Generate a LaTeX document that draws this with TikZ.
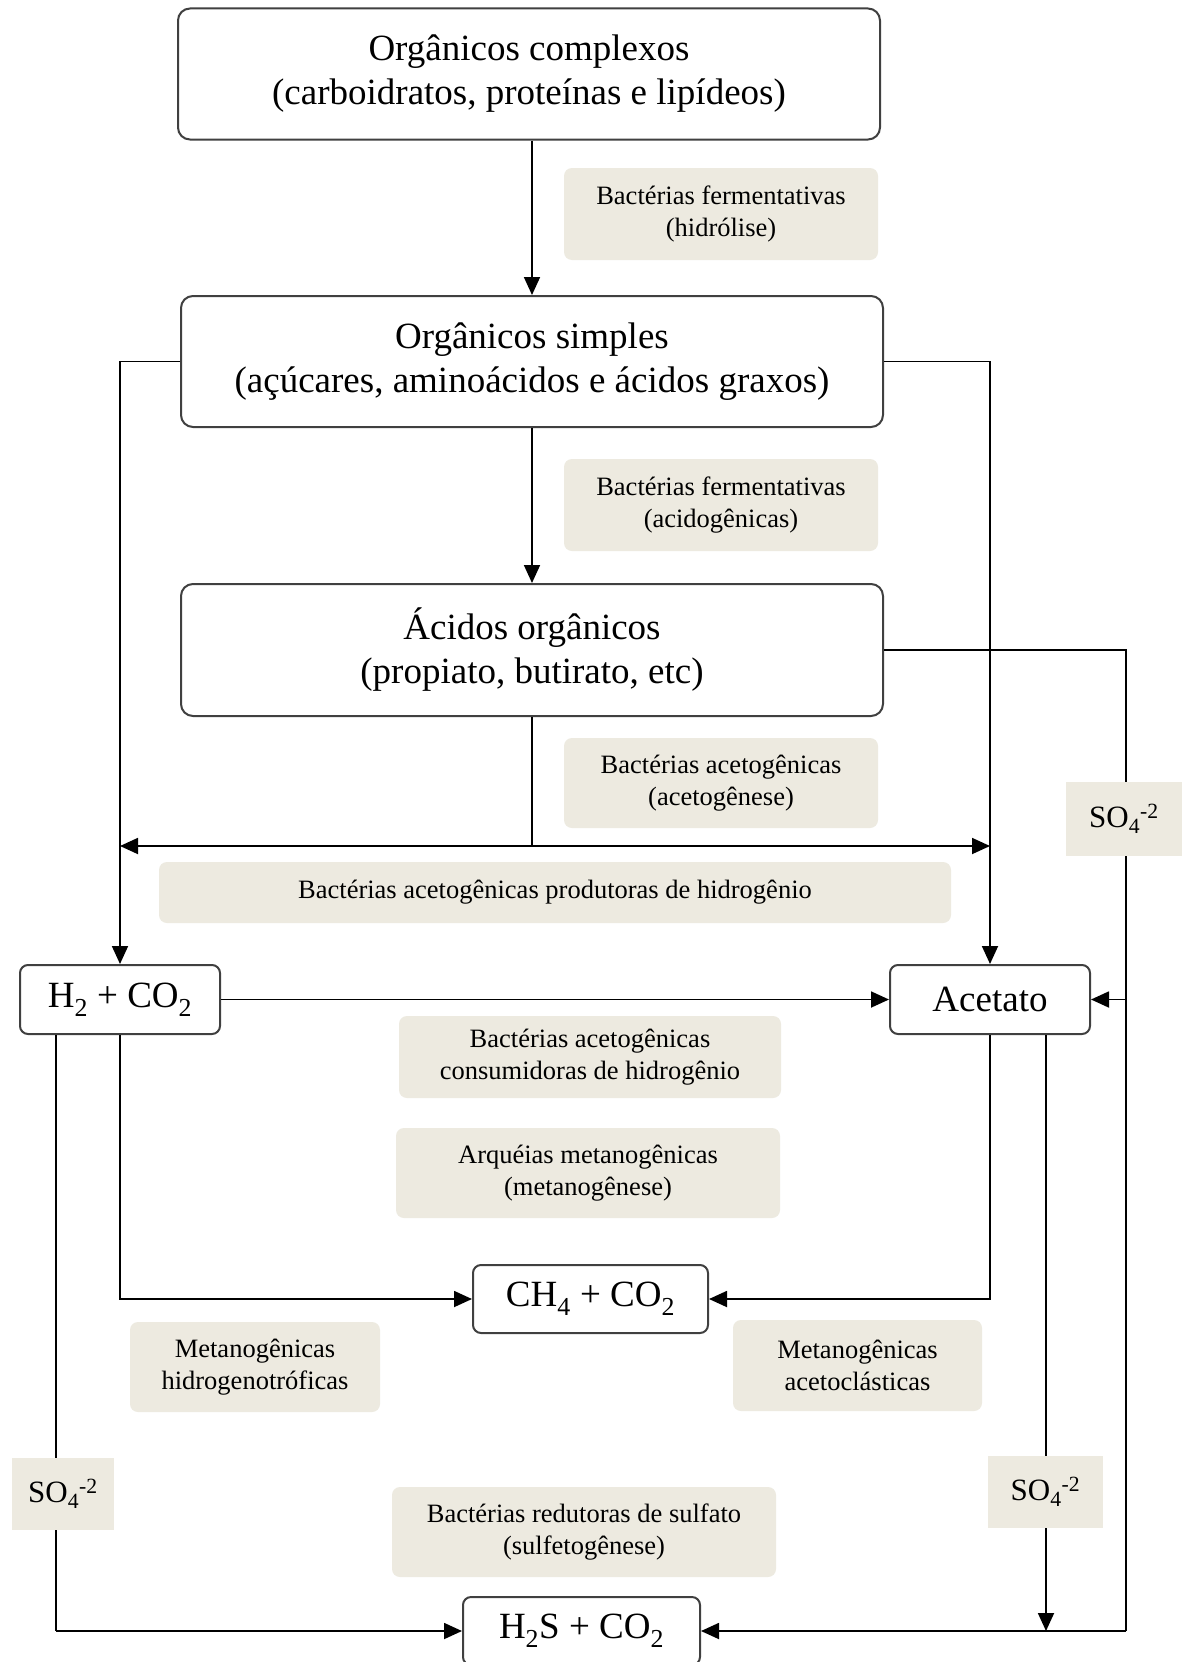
\documentclass[tikz,border=0pt]{standalone}
\usepackage{fontspec}
\setmainfont{Liberation Serif}
\usetikzlibrary{arrows.meta}
\definecolor{beige}{HTML}{EDEAE0}
\begin{document}
\begin{tikzpicture}[x=1pt,y=-1pt,
  mainbox/.style={draw=black!75, line width=2pt, rounded corners=12pt, fill=white, align=center, inner sep=0pt, font=\fontsize{37}{44}\selectfont},
  smallbox/.style={mainbox, rounded corners=8pt},
  lbl/.style={fill=beige, rounded corners=8pt, align=center, inner sep=0pt, font=\fontsize{26.5}{32}\selectfont},
  sobox/.style={fill=beige, inner sep=0pt, font=\fontsize{31}{36}\selectfont},
  tip/.tip={Triangle[length=18pt,width=16pt]},
  conn/.style={line width=1.8pt, draw=black, -tip},
  wire/.style={line width=1.8pt, draw=black}]
\clip (0,0) rectangle (1182,1662);
\fill[white] (0,0) rectangle (1182,1662);
% main boxes
\node[mainbox, minimum width=702, minimum height=131] (oc) at (529,74) {Orgânicos complexos\\(carboidratos, proteínas e lipídeos)};
\node[mainbox, minimum width=702, minimum height=131] (os) at (532,361.5) {Orgânicos simples\\(açúcares, aminoácidos e ácidos graxos)};
\node[mainbox, minimum width=702, minimum height=132] (ao) at (532,650) {Ácidos orgânicos\\(propiato, butirato, etc)};
\node[smallbox, minimum width=200, minimum height=69] (h2) at (120,999.5) {H\textsubscript{2} + CO\textsubscript{2}};
\node[smallbox, minimum width=200, minimum height=69] (ac) at (990,999.5) {Acetato};
\node[smallbox, minimum width=235, minimum height=68] (ch4) at (590.5,1299) {CH\textsubscript{4} + CO\textsubscript{2}};
\node[smallbox, minimum width=237, minimum height=68] (h2s) at (581.5,1631) {H\textsubscript{2}S + CO\textsubscript{2}};
% labels
\node[lbl, minimum width=314, minimum height=92] (l1) at (721,214) {Bactérias fermentativas\\(hidrólise)};
\node[lbl, minimum width=314, minimum height=92] (l2) at (721,505) {Bactérias fermentativas\\(acidogênicas)};
\node[lbl, minimum width=314, minimum height=90] (l3) at (721,783) {Bactérias acetogênicas\\(acetogênese)};
\node[lbl, minimum width=792, minimum height=61] (l4) at (555,892.5) {Bactérias acetogênicas produtoras de hidrogênio};
\node[lbl, minimum width=382, minimum height=82] (l5) at (590,1057) {Bactérias acetogênicas\\consumidoras de hidrogênio};
\node[lbl, minimum width=384, minimum height=90] (l6) at (588,1173) {Arquéias metanogênicas\\(metanogênese)};
\node[lbl, minimum width=250, minimum height=90] (l7) at (255,1367) {Metanogênicas\\hidrogenotróficas};
\node[lbl, minimum width=249, minimum height=91] (l8) at (857.5,1365.5) {Metanogênicas\\acetoclásticas};
\node[lbl, minimum width=384, minimum height=90] (l9) at (584,1532) {Bactérias redutoras de sulfato\\(sulfetogênese)};
% junction coordinates
\coordinate (j) at (532,846);
\coordinate (rb) at (1126,1631);
\coordinate (lb) at (56,1631);
\coordinate (ab) at (1046,1631);
% connectors
\draw[conn] (oc.south -| os.north) -- (os.north);
\draw[conn] (os.south) -- (ao.north);
\draw[conn] (os.west) -| (h2.north);
\draw[conn] (os.east) -| (ac.north);
\draw[wire] (ao.south) -- (j);
\draw[wire, tip-tip] (j -| h2.north) -- (j -| ac.north);
\draw[wire] (ao.east) -| (rb);
\draw[conn] (rb) -- (h2s.east);
\draw[conn] (rb |- ac.east) -- (ac.east);
\draw[conn] (h2.east) -- (ac.west);
\draw[conn] (h2.south) |- (ch4.west);
\draw[conn] (ac.south) |- (ch4.east);
\draw[wire] (h2.south -| lb) -- (lb);
\draw[conn] (lb) -- (h2s.west);
\draw[conn] (ac.south -| ab) -- (ab);
% sulfate labels over lines
\node[sobox, minimum width=116, minimum height=74] (so1) at (1124,819) {SO\textsubscript{4}\textsuperscript{-2}};
\node[sobox, minimum width=102, minimum height=72] (so2) at (63,1494) {SO\textsubscript{4}\textsuperscript{-2}};
\node[sobox, minimum width=115, minimum height=72] (so3) at (1045.5,1492) {SO\textsubscript{4}\textsuperscript{-2}};
\end{tikzpicture}
\end{document}
